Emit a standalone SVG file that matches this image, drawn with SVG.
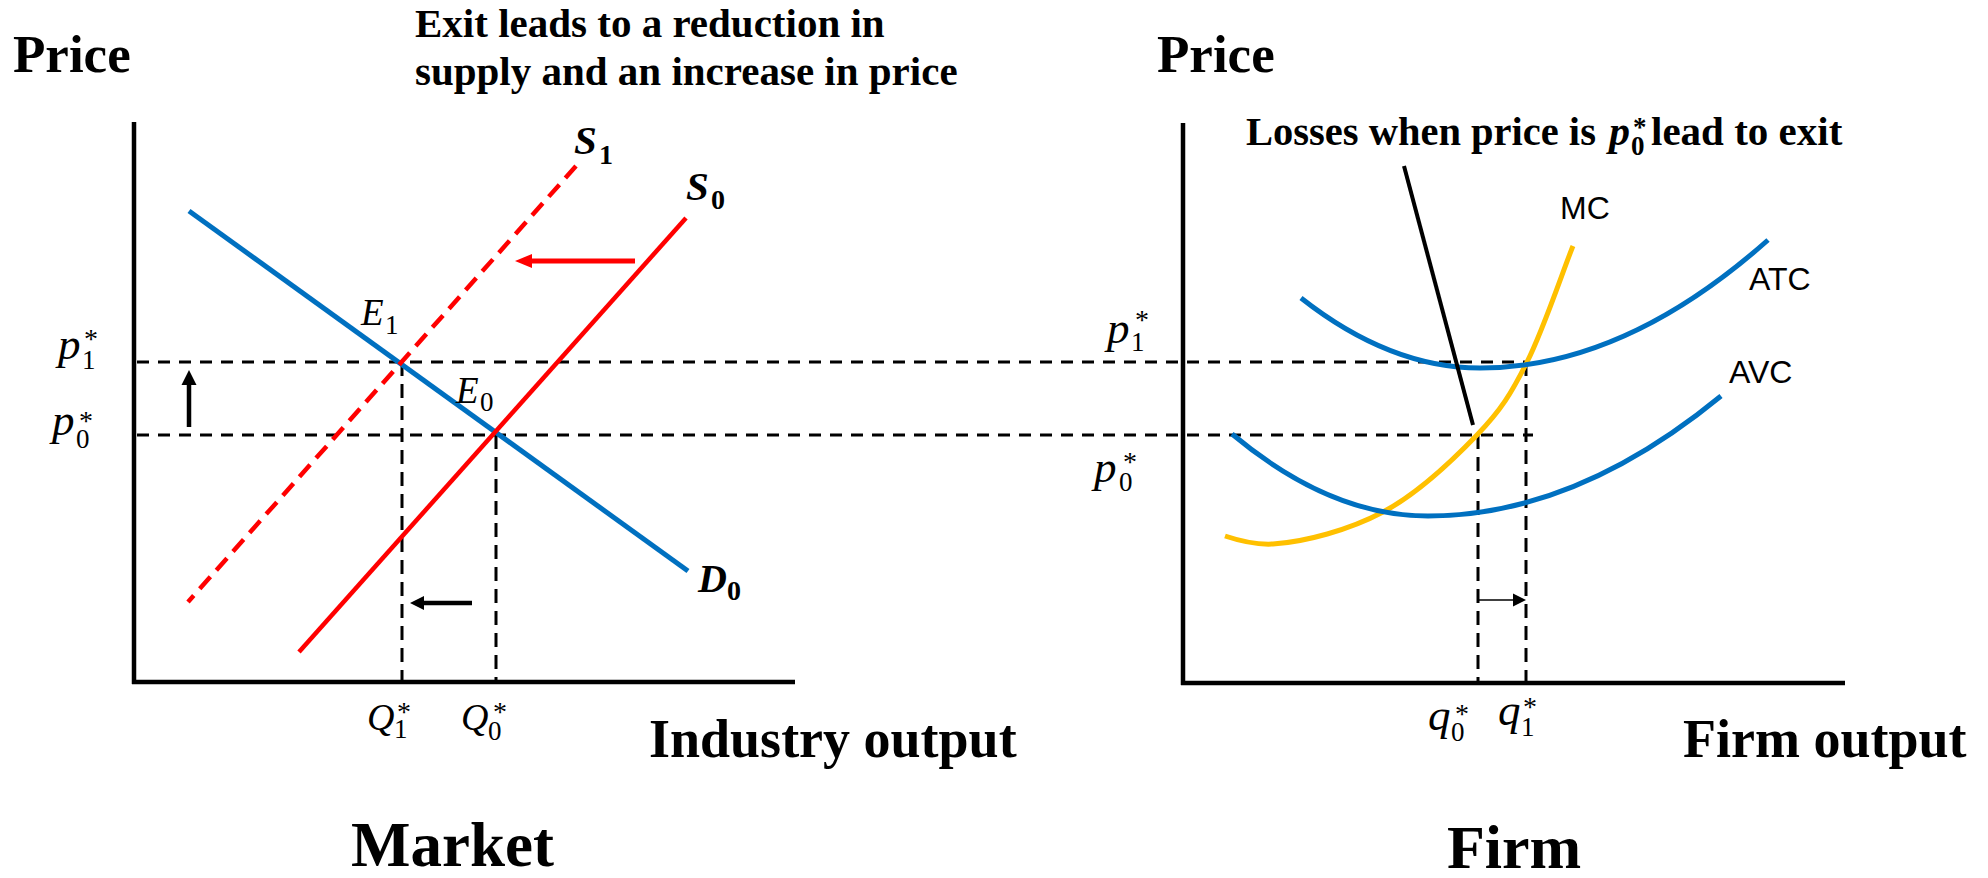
<svg xmlns="http://www.w3.org/2000/svg" width="1988" height="878" viewBox="0 0 1988 878">
<style>
.bg{fill:#fff}
.axis{stroke:#000;stroke-width:4.5;fill:none}
.guide{stroke:#000;stroke-width:3;stroke-dasharray:12 9;fill:none}
.vguide{stroke:#000;stroke-width:3;stroke-dasharray:14 8;fill:none}
.blue{stroke:#0070C0;stroke-width:5;fill:none}
.red{stroke:#FF0000;stroke-width:4.5;fill:none}
.reddash{stroke:#FF0000;stroke-width:4.5;fill:none;stroke-dasharray:16 9}
.yellow{stroke:#FFC000;stroke-width:5;fill:none}
.pointer{stroke:#000;stroke-width:4;fill:none}
.t{font-family:"Liberation Serif","Times New Roman",serif;font-weight:bold;fill:#000}
.mi{font-family:"Liberation Serif","Times New Roman",serif;font-style:italic;fill:#000}
.mn{font-family:"Liberation Serif","Times New Roman",serif;fill:#000}
.mb{font-family:"Liberation Serif","Times New Roman",serif;font-style:italic;font-weight:bold;fill:#000}
.mbn{font-family:"Liberation Serif","Times New Roman",serif;font-weight:bold;fill:#000}
.s{font-family:"Liberation Sans",Arial,sans-serif;font-size:32px;fill:#000}
</style>
<rect class="bg" x="0" y="0" width="1988" height="878"/>

<g id="market-axes">
<line class="axis" x1="134" y1="122" x2="134" y2="684"/>
<line class="axis" x1="132" y1="682" x2="795" y2="682"/>
<text class="t" x="13" y="72" font-size="53">Price</text>
<text class="t" x="649" y="757" font-size="54">Industry output</text>
<text class="t" x="351" y="866" font-size="63">Market</text>
</g>

<g id="firm-axes">
<line class="axis" x1="1183" y1="123" x2="1183" y2="685"/>
<line class="axis" x1="1181" y1="683" x2="1845" y2="683"/>
<text class="t" x="1157" y="72" font-size="53">Price</text>
<text class="t" x="1683" y="757" font-size="54">Firm output</text>
<text class="t" x="1447" y="868" font-size="62">Firm</text>
</g>

<g id="guides">
<line class="guide" x1="137" y1="362" x2="1527" y2="362"/>
<line class="guide" x1="137" y1="435" x2="1533" y2="435"/>
<line class="vguide" x1="402" y1="362" x2="402" y2="682"/>
<line class="vguide" x1="496" y1="435" x2="496" y2="682"/>
<line class="vguide" x1="1478" y1="435" x2="1478" y2="683"/>
<line class="vguide" x1="1526" y1="362" x2="1526" y2="683"/>
</g>

<g id="title-exit">
<text class="t" x="415" y="37" font-size="41">Exit leads to a reduction in</text>
<text class="t" x="415" y="85" font-size="41">supply and an increase in price</text>
</g>

<g id="demand-D0">
<line class="blue" x1="189" y1="211" x2="688" y2="571"/>
<text class="mb" x="698" y="592" font-size="40">D</text>
<text class="mbn" x="727" y="600" font-size="28">0</text>
</g>

<g id="supply-S0">
<line class="red" x1="686" y1="218" x2="299" y2="652"/>
<text class="mb" x="686" y="200" font-size="41">S</text>
<text class="mbn" x="711" y="209" font-size="28">0</text>
</g>

<g id="supply-S1">
<line class="reddash" x1="576" y1="166" x2="188" y2="602"/>
<text class="mb" x="574" y="154" font-size="41">S</text>
<text class="mbn" x="599" y="164" font-size="28">1</text>
</g>

<g id="label-E1">
<text class="mi" x="361" y="325" font-size="37">E</text>
<text class="mn" x="385" y="334" font-size="27">1</text>
</g>
<g id="label-E0">
<text class="mi" x="456" y="403" font-size="37">E</text>
<text class="mn" x="480" y="411" font-size="27">0</text>
</g>

<g id="label-p1-market">
<text class="mi" x="58" y="359" font-size="45">p</text>
<text class="mn" x="82" y="369" font-size="27">1</text>
<text class="mn" x="84" y="348" font-size="28">*</text>
</g>
<g id="label-p0-market">
<text class="mi" x="52" y="435" font-size="45">p</text>
<text class="mn" x="76" y="448" font-size="27">0</text>
<text class="mn" x="79" y="430" font-size="28">*</text>
</g>

<g id="label-Q1">
<text class="mi" x="367" y="730" font-size="38">Q</text>
<text class="mn" x="394" y="738" font-size="27">1</text>
<text class="mn" x="397" y="721" font-size="28">*</text>
</g>
<g id="label-Q0">
<text class="mi" x="461" y="730" font-size="38">Q</text>
<text class="mn" x="488" y="740" font-size="27">0</text>
<text class="mn" x="493" y="721" font-size="28">*</text>
</g>

<g id="title-losses">
<text class="t" x="1246" y="145" font-size="40.5">Losses when price is</text>
<text class="mb" x="1609" y="145" font-size="42">p</text>
<text class="mbn" x="1631" y="155" font-size="27">0</text>
<text class="mbn" x="1633" y="136" font-size="27">*</text>
<text class="t" x="1651" y="145" font-size="41">lead to exit</text>
</g>

<g id="curve-MC">
<path class="yellow" d="M1225,536 C1240,541 1255,545 1273,544 C1305,542 1349,530 1383,512 C1417,494 1453,460 1477,435 C1501,410 1511,394 1527,362 C1543,331 1565,265 1573,246"/>
<text class="s" x="1560" y="219">MC</text>
</g>

<g id="curve-ATC">
<path class="blue" d="M1301,298 Q1390,368 1480,368 Q1624,368 1768,240"/>
<text class="s" x="1749" y="290">ATC</text>
</g>

<g id="curve-AVC">
<path class="blue" d="M1232,434 Q1330,516 1428,516 Q1575,516 1721,396"/>
<text class="s" x="1729" y="383">AVC</text>
</g>

<g id="label-p1-firm">
<text class="mi" x="1107" y="343" font-size="45">p</text>
<text class="mn" x="1131" y="351" font-size="27">1</text>
<text class="mn" x="1135" y="329" font-size="28">*</text>
</g>
<g id="label-p0-firm">
<text class="mi" x="1094" y="482" font-size="45">p</text>
<text class="mn" x="1119" y="491" font-size="27">0</text>
<text class="mn" x="1123" y="471" font-size="28">*</text>
</g>

<g id="label-q0">
<text class="mi" x="1428" y="730" font-size="45">q</text>
<text class="mn" x="1451" y="741" font-size="27">0</text>
<text class="mn" x="1455" y="723" font-size="28">*</text>
</g>
<g id="label-q1">
<text class="mi" x="1498" y="725" font-size="45">q</text>
<text class="mn" x="1521" y="736" font-size="27">1</text>
<text class="mn" x="1523" y="716" font-size="28">*</text>
</g>

<g id="connectors">
<line x1="635" y1="261" x2="530" y2="261" stroke="#FF0000" stroke-width="5"/>
<polygon points="515,261 532,254 532,268" fill="#FF0000"/>
<line x1="189" y1="427" x2="189" y2="382" stroke="#000" stroke-width="4.5"/>
<polygon points="189,370 181.5,385 196.5,385" fill="#000"/>
<line x1="472" y1="603" x2="422" y2="603" stroke="#000" stroke-width="4.5"/>
<polygon points="410,603 424,596 424,610" fill="#000"/>
<line x1="1478" y1="600" x2="1515" y2="600" stroke="#000" stroke-width="1.5"/>
<polygon points="1526,600 1513,593.5 1513,606.5" fill="#000"/>
<line class="pointer" x1="1404" y1="166" x2="1473" y2="425"/>
</g>
</svg>
